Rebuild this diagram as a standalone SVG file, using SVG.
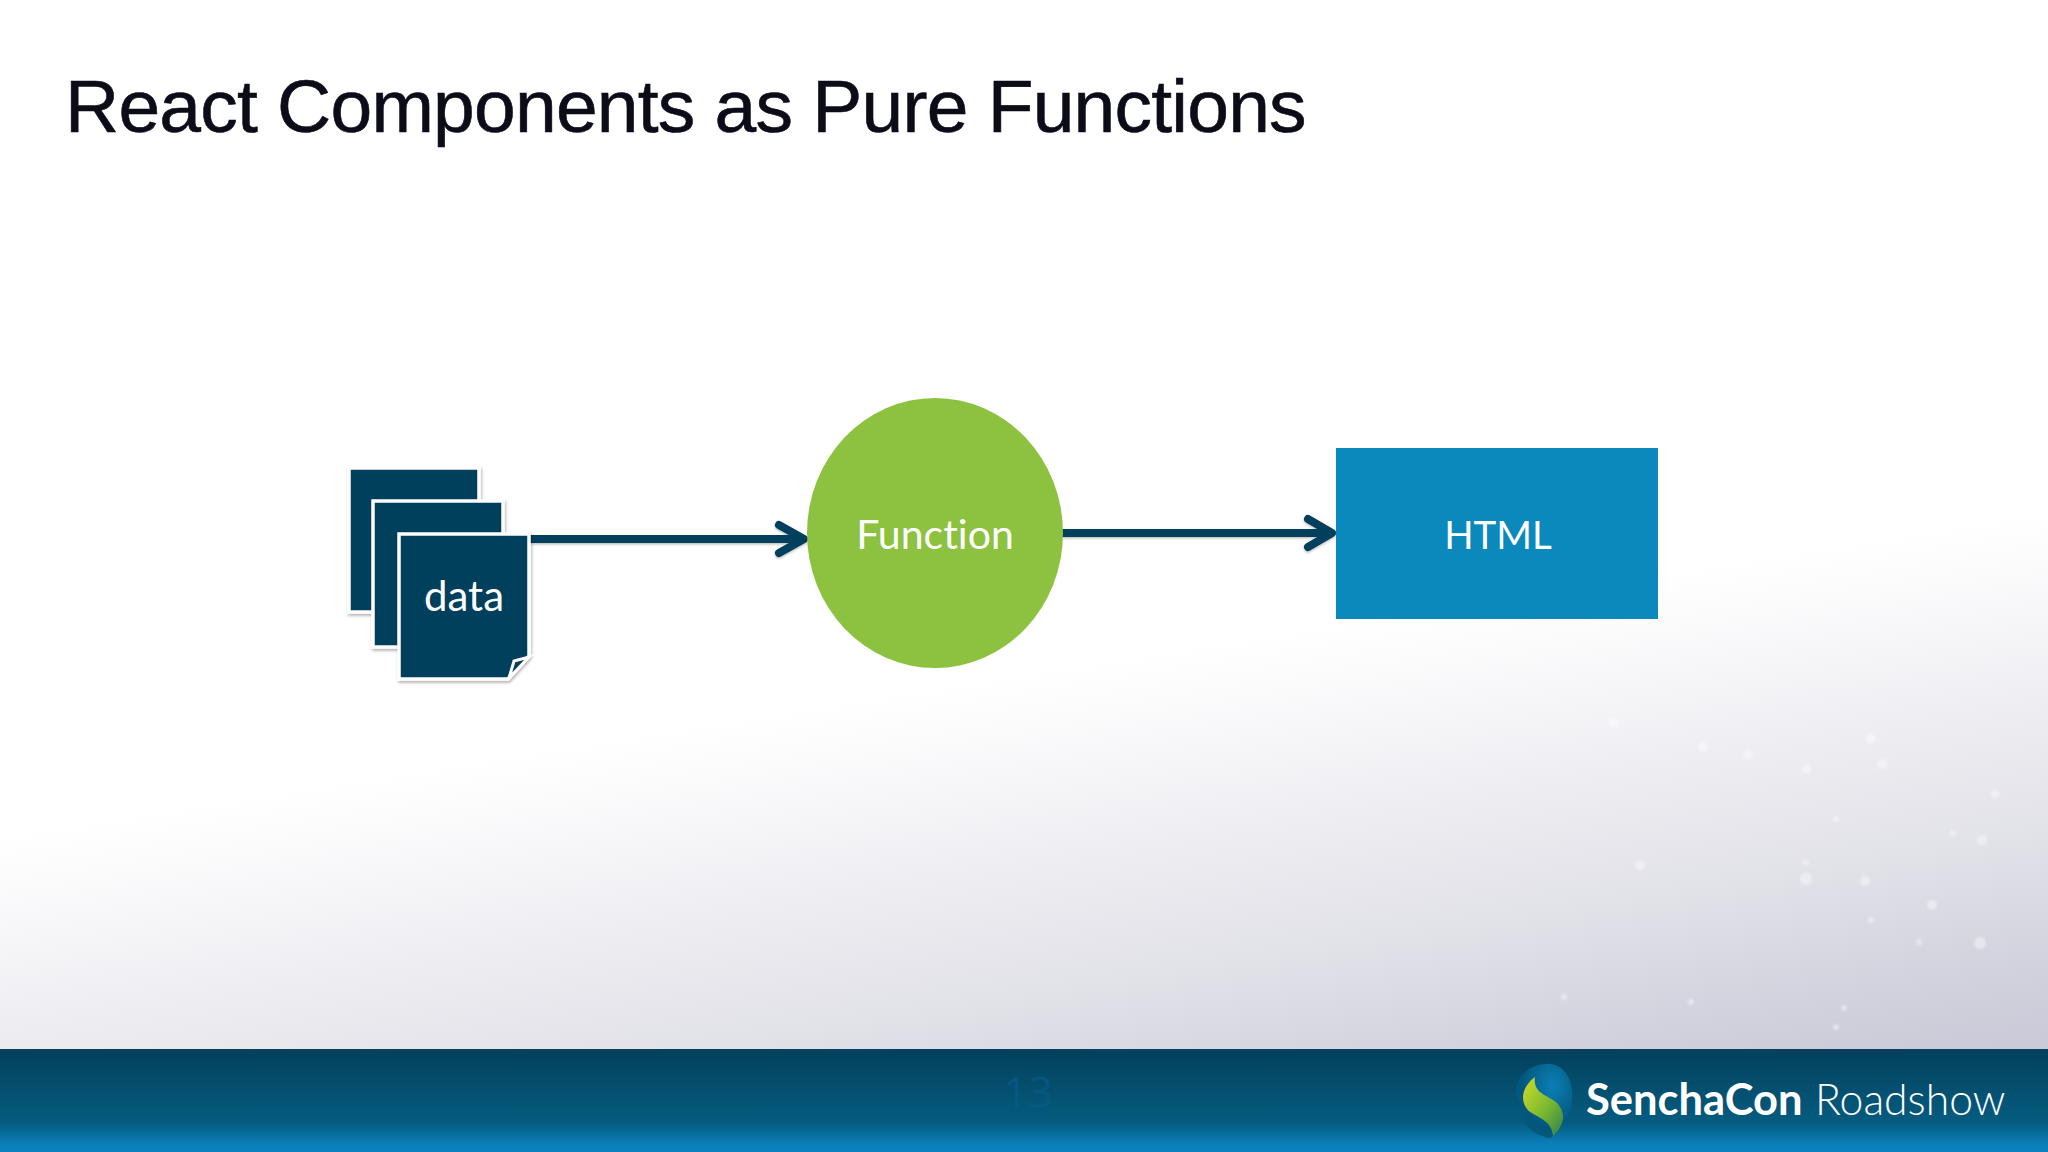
<svg xmlns="http://www.w3.org/2000/svg" width="2048" height="1152" viewBox="0 0 2048 1152">
<defs>
<linearGradient id="bg" gradientUnits="userSpaceOnUse" x1="1024" y1="673" x2="1106" y2="1191">
<stop offset="0" stop-color="#ffffff"/><stop offset="0.1" stop-color="#fbfbfc"/><stop offset="0.3" stop-color="#f1f0f4"/><stop offset="0.6" stop-color="#e2e2e9"/><stop offset="0.85" stop-color="#d2d2de"/><stop offset="1" stop-color="#cacad8"/>
</linearGradient>
<linearGradient id="band" x1="0" y1="0" x2="0" y2="1">
<stop offset="0" stop-color="#03405c"/><stop offset="0.72" stop-color="#055c80"/><stop offset="0.92" stop-color="#0a7fb8"/><stop offset="1" stop-color="#0a82bd"/>
</linearGradient>
<linearGradient id="leaf" x1="0" y1="0" x2="1" y2="1">
<stop offset="0" stop-color="#d0dc2c"/><stop offset="0.55" stop-color="#7bb92f"/><stop offset="1" stop-color="#2f7f4e"/>
</linearGradient>
<radialGradient id="orb" cx="0.65" cy="0.3" r="0.8">
<stop offset="0" stop-color="#0b7fb5"/><stop offset="0.7" stop-color="#04567c"/><stop offset="1" stop-color="#05577c"/>
</radialGradient>
<filter id="soft" x="-10%" y="-10%" width="125%" height="125%"><feDropShadow dx="1" dy="2" stdDeviation="1.5" flood-color="#000" flood-opacity="0.3"/></filter>
<filter id="wireshadow" x="-5%" y="-30%" width="110%" height="170%"><feDropShadow dx="0" dy="1.5" stdDeviation="1" flood-color="#000" flood-opacity="0.25"/></filter>
<filter id="blur" x="-50%" y="-50%" width="200%" height="200%"><feGaussianBlur stdDeviation="1"/></filter>
</defs>
<style>
.sheet{fill:#04405c;stroke:#fff;stroke-width:3.5;filter:url(#soft)}
.wire{fill:none;stroke:#04405c;stroke-width:8;stroke-linecap:round;stroke-linejoin:round;filter:url(#wireshadow)}
.lbl{font-family:Lato,"Open Sans",sans-serif;fill:#fff;text-anchor:middle;font-size:41px;font-variant-ligatures:none}
.dot{fill:#fff;opacity:.4;filter:url(#blur)}
</style>
<rect id="background" width="2048" height="1152" fill="url(#bg)"/>
<g id="particles">
<circle class="dot" cx="1614" cy="723" r="5"/><circle class="dot" cx="1703" cy="747" r="5"/><circle class="dot" cx="1748" cy="755" r="5"/><circle class="dot" cx="1807" cy="769" r="5"/><circle class="dot" cx="1871" cy="739" r="5"/><circle class="dot" cx="1882" cy="764" r="5"/><circle class="dot" cx="1995" cy="794" r="4"/><circle class="dot" cx="1836" cy="819" r="3"/><circle class="dot" cx="1953" cy="833" r="3"/><circle class="dot" cx="1982" cy="840" r="5"/><circle class="dot" cx="1640" cy="865" r="5"/><circle class="dot" cx="1806" cy="879" r="6"/><circle class="dot" cx="1806" cy="863" r="3"/><circle class="dot" cx="1865" cy="881" r="5"/><circle class="dot" cx="1932" cy="905" r="5"/><circle class="dot" cx="1871" cy="920" r="3"/><circle class="dot" cx="1919" cy="942" r="3"/><circle class="dot" cx="1980" cy="943" r="6"/><circle class="dot" cx="1564" cy="997" r="3"/><circle class="dot" cx="1691" cy="1002" r="3"/><circle class="dot" cx="1844" cy="1008" r="3"/><circle class="dot" cx="1836" cy="1027" r="3"/>
</g>
<text id="title" x="65" y="132" font-family="'Liberation Sans',Arial,sans-serif" font-size="75" fill="#0b0c18" stroke="#0b0c18" stroke-width="0.6" letter-spacing="-0.78">React Components as Pure Functions</text>
<g id="connectors">
<path class="wire" d="M531 539H802M779 525L804 539L779 553"/>
<path class="wire" d="M1063 533H1331M1308 519L1332 533L1308 547"/>
</g>
<g id="data">
<rect class="sheet" x="349" y="468" width="130" height="144"/>
<rect class="sheet" x="373" y="501" width="130" height="146"/>
<path class="sheet" d="M399 534H529V656L508 679H399Z"/>
<path d="M509 678L514 661L529 657Z" fill="#04405c" stroke="#fff" stroke-width="3"/>
<text class="lbl" style="font-size:42px" x="464" y="611">data</text>
</g>
<g id="function">
<ellipse cx="935" cy="533" rx="128" ry="135" fill="#8dc240"/>
<text class="lbl" x="935" y="549">Function</text>
</g>
<g id="html">
<rect x="1336" y="448" width="322" height="171" fill="#0b88bc"/>
<text class="lbl" style="font-size:38.5px" x="1498" y="549">HTML</text>
</g>
<g id="footer">
<rect x="0" y="1049" width="2048" height="103" fill="url(#band)"/>
<text x="1028" y="1108" font-family="'Open Sans',sans-serif" font-size="44" text-anchor="middle" fill="#0a5a86" opacity="0.7">13</text>
<path d="M1545 1064C1565 1062 1574 1082 1572 1100C1571 1118 1562 1128 1550 1138C1532 1135 1518 1122 1518 1100C1512 1088 1520 1066 1545 1064Z" fill="url(#orb)"/>
<path d="M1535 1077C1520 1088 1520 1104 1530 1112C1540 1118 1552 1122 1553 1136C1566 1124 1566 1112 1556 1102C1544 1094 1533 1092 1535 1077Z" fill="url(#leaf)"/>
<text x="1586" y="1115" font-family="Lato,sans-serif" font-weight="700" font-size="43.5" fill="#fff">SenchaCon</text>
<text x="1815" y="1115" font-family="Lato,sans-serif" font-weight="300" font-size="42.7" fill="#fff">Roadshow</text>
</g>
</svg>
